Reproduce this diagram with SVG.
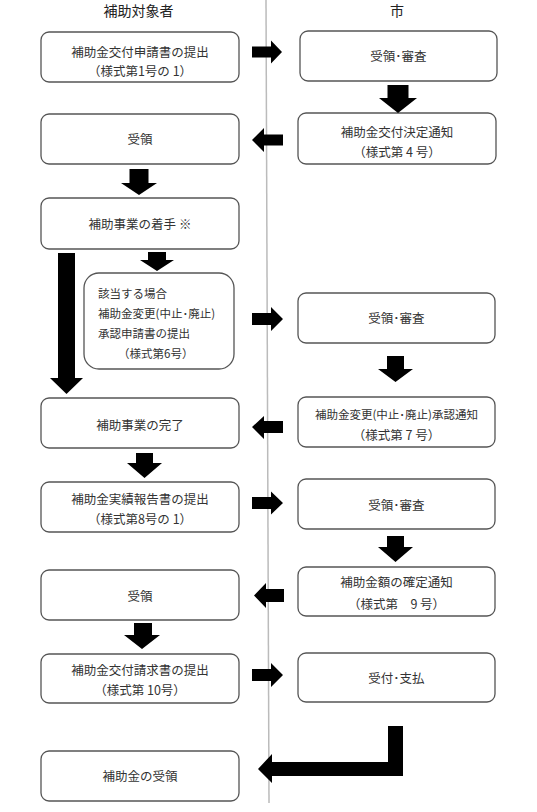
<svg xmlns="http://www.w3.org/2000/svg" width="537" height="812" viewBox="0 0 537 812">
<style>
.b{fill:#fff;stroke:#555;stroke-width:1.3}
.t{font-family:"Noto Sans CJK JP","Liberation Sans",sans-serif;font-size:12.5px;fill:#333;text-anchor:middle}
.s{font-size:11.5px}
.l{text-anchor:start}
.h{font-size:14px;fill:#222}
.a{fill:#000}
</style>
<rect width="537" height="812" fill="#fff"/>
<line x1="266" y1="0" x2="269" y2="803" stroke="#bbb" stroke-width="1.5"/>
<text class="t h" x="138.5" y="16">補助対象者</text>
<text class="t h" x="397" y="16">市</text>

<g id="L1"><rect class="b" x="41" y="32" width="198" height="50" rx="8"/><text class="t" x="140" y="56.5">補助金交付申請書の提出</text><text class="t" x="140" y="75.5">（様式第1号の 1）</text></g>
<g id="R1"><rect class="b" x="300" y="31" width="197" height="50" rx="8"/><text class="t" x="398.5" y="60.5">受領･審査</text></g>
<g id="L2"><rect class="b" x="41" y="114" width="198" height="50" rx="8"/><text class="t" x="140" y="143.5">受領</text></g>
<g id="R2"><rect class="b" x="298" y="113" width="198" height="51" rx="8"/><text class="t" x="397" y="136.5">補助金交付決定通知</text><text class="t" x="397" y="156.5">（様式第 4 号）</text></g>
<g id="L3"><rect class="b" x="41" y="198" width="198" height="51" rx="8"/><text class="t" x="140" y="228.5">補助事業の着手 ※</text></g>
<g id="L4"><rect class="b" x="84" y="273" width="150" height="96" rx="15"/><text class="t s l" x="98" y="297.5">該当する場合</text><text class="t s l" x="98" y="317.5">補助金変更(中止･廃止)</text><text class="t s l" x="98" y="337.5">承認申請書の提出</text><text class="t s l" x="118" y="357.5">（様式第6号）</text></g>
<g id="R3"><rect class="b" x="298" y="293" width="197" height="50" rx="8"/><text class="t" x="396.5" y="322.5">受領･審査</text></g>
<g id="L5"><rect class="b" x="41" y="398" width="198" height="50" rx="8"/><text class="t" x="140" y="429.5">補助事業の完了</text></g>
<g id="R4"><rect class="b" x="298" y="397" width="197" height="50" rx="8"/><text class="t s" x="396.5" y="419">補助金変更(中止･廃止)承認通知</text><text class="t" x="396.5" y="439.5">（様式第 7 号）</text></g>
<g id="L6"><rect class="b" x="41" y="482" width="198" height="50" rx="8"/><text class="t" x="140" y="503.5">補助金実績報告書の提出</text><text class="t" x="140" y="523.5">（様式第8号の 1）</text></g>
<g id="R5"><rect class="b" x="298" y="479" width="197" height="50" rx="8"/><text class="t" x="396.5" y="509.5">受領･審査</text></g>
<g id="R6"><rect class="b" x="298" y="567" width="197" height="49" rx="8"/><text class="t" x="396.5" y="586.5">補助金額の確定通知</text><text class="t" x="396.5" y="608.5">（様式第　9 号）</text></g>
<g id="L7"><rect class="b" x="41" y="570" width="198" height="50" rx="8"/><text class="t" x="140" y="600.5">受領</text></g>
<g id="L8"><rect class="b" x="41" y="654" width="198" height="49" rx="8"/><text class="t" x="140" y="674.5">補助金交付請求書の提出</text><text class="t" x="140" y="694.5">（様式第 10号）</text></g>
<g id="R7"><rect class="b" x="298" y="653" width="197" height="49" rx="8"/><text class="t" x="396.5" y="682.5">受付･支払</text></g>
<g id="L9"><rect class="b" x="41" y="751" width="198" height="50" rx="8"/><text class="t" x="140" y="780.5">補助金の受領</text></g>

<g id="connectors" class="a">
<polygon points="252,46.5 271,46.5 271,40.5 282,52 271,63.5 271,57.5 252,57.5"/>
<polygon points="283,134.5 264,134.5 264,128 252,140 264,152 264,145.5 283,145.5"/>
<polygon points="387.5,85 408.5,85 408.5,98 417,98 398,113 379,98 387.5,98"/>
<polygon points="129.5,169 148.5,169 148.5,183 157,183 139,195 121,183 129.5,183"/>
<polygon points="58,253 75,253 75,378 83,378 66.5,394 50,378 58,378"/>
<polygon points="148,252 166,252 166,260 174,260 157,271 140,260 148,260"/>
<polygon points="252,313 271,313 271,307 283,319 271,331 271,325 252,325"/>
<polygon points="387,356 404,356 404,369 413,369 395.5,382 378,369 387,369"/>
<polygon points="283,421 264,421 264,416 252,427 264,439 264,433 283,433"/>
<polygon points="136,453 153,453 153,463 162,463 144.5,478 127,463 136,463"/>
<polygon points="252,497 271,497 271,491.5 283,503 271,514.5 271,509 252,509"/>
<polygon points="387,536 404,536 404,547 413,547 395.5,562 378,547 387,547"/>
<polygon points="284,589 266,589 266,583 254,595.5 266,608 266,602 284,602"/>
<polygon points="134,623 152,623 152,635 160,635 142,649 124,635 134,635"/>
<polygon points="252,669 271,669 271,663 283,675 271,687 271,681 252,681"/>
<polygon points="388,726 403,726 403,776 272,776 272,783 258,769 272,754 272,762 388,762"/>
</g>
</svg>
